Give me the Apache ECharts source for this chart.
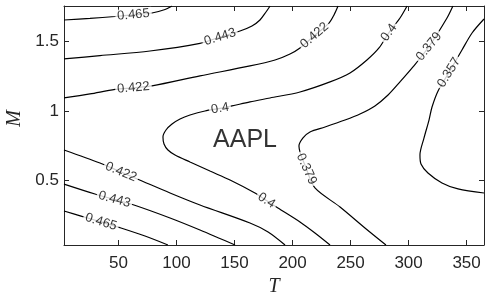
<!DOCTYPE html>
<html><head><meta charset="utf-8">
<script src="https://cdn.jsdelivr.net/npm/echarts@6/dist/echarts.min.js"></script>
<style>html,body{margin:0;padding:0;background:#fff}#c{width:500px;height:300px}</style>
</head><body><div id="c"></div>
<script>
// axis data
const xTicks = [50, 100, 150, 200, 250, 300, 350];
const yTicks = [0.5, 1, 1.5];
const xRange = [3, 365];
const yRange = [0.04, 1.75];

// contour lines [T, M]
const c465Top = [[3,1.650],[25.4,1.661],[47.0,1.675],[62.9,1.687],[78.8,1.700],[90.1,1.725],[96.1,1.75]];
const c443Top = [[3,1.371],[34.0,1.395],[77.1,1.428],[120.2,1.483],[137.5,1.528],[154.7,1.571],[165.0,1.607],[171.9,1.650],[177.1,1.707],[180.6,1.75]];
const c422Top = [[3,1.092],[25.4,1.121],[47.0,1.153],[62.9,1.165],[78.8,1.178],[120.2,1.250],[163.3,1.321],[184.9,1.364],[197.8,1.407],[206.4,1.450],[218.9,1.539],[231.4,1.628],[235.7,1.686],[239.2,1.75]];
const c400 = [[298.7,1.75],[292.6,1.664],[283.1,1.560],[274.5,1.450],[264.1,1.364],[249.5,1.271],[232.3,1.207],[206.4,1.135],[180.6,1.092],[163.3,1.064],[147.8,1.035],[137.5,1.017],[124.5,0.999],[111.6,0.970],[103.0,0.942],[96.1,0.906],[90.9,0.863],[88.3,0.813],[89.2,0.763],[92.6,0.720],[98.7,0.684],[111.6,0.634],[128.8,0.569],[146.1,0.505],[167.6,0.412],[177.5,0.358],[187.4,0.305],[206.4,0.205],[219.3,0.126],[232.3,0.04]];
const c379 = [[338.2,1.75],[333.1,1.664],[317.6,1.460],[303.8,1.314],[292.6,1.207],[282.3,1.113],[271.0,1.035],[258.1,0.977],[245.2,0.934],[228.0,0.884],[215.0,0.849],[209.0,0.806],[205.5,0.748],[212.0,0.584],[219.3,0.448],[240.9,0.312],[262.4,0.162],[280.5,0.04]];
const c357 = [[365,1.657],[354.7,1.557],[346.0,1.435],[334.8,1.274],[325.4,1.142],[320.2,1.027],[317.6,0.934],[313.3,0.806],[309.8,0.684],[310.7,0.620],[316.7,0.555],[328.8,0.484],[342.6,0.441],[365,0.412]];
const c422Low = [[3,0.720],[34.0,0.627],[52.1,0.562],[70.2,0.498],[94.4,0.412],[120.2,0.326],[163.3,0.197],[178.9,0.133],[193.5,0.04]];
const c443Low = [[3,0.476],[29.7,0.405],[46.5,0.366],[63.3,0.326],[94.4,0.233],[120.2,0.147],[150.4,0.04]];
const c465Low = [[3,0.283],[17.7,0.247],[34.9,0.205],[52.1,0.162],[72.8,0.104],[92.6,0.04]];

// contour labels
const labelTexts  = ['0.465','0.443','0.422','0.422','0.4','0.4','0.4','0.379','0.379','0.357','0.422','0.443','0.465'];
const labelPoints = [[62.9,1.687],[137.5,1.528],[62.9,1.165],[218.9,1.539],[283.1,1.560],[137.5,1.017],[177.5,0.358],[317.6,1.460],[212.0,0.584],[334.8,1.274],[52.1,0.562],[46.5,0.366],[34.9,0.205]];
const labelAngles = [5, 17, 5, 41, 54, 10, -33, 51, -66, 58, -23, -16, -17];

const annotation = {text: 'AAPL', point: [159.0, 0.788]};

const contours = [c465Top, c443Top, c422Top, c400, c379, c357, c422Low, c443Low, c465Low];

const chart = echarts.init(document.getElementById('c'), null, {renderer: 'canvas'});
const axisCol = '#262626';
const tickFont = {fontFamily: '"Liberation Sans", Arial, Helvetica, sans-serif', fontSize: 17, color: axisCol};

function mkX(pos, show) {
  return {
    type: 'value', position: pos, min: xRange[0], max: xRange[1],
    axisLine: {show: true, onZero: false, lineStyle: {color: axisCol, width: 1}},
    axisTick: {show: true, inside: true, length: 5, customValues: xTicks, lineStyle: {color: axisCol}},
    axisLabel: Object.assign({show: show, margin: 10, customValues: xTicks}, tickFont),
    splitLine: {show: false},
    name: show ? 'T' : '', nameLocation: 'middle', nameGap: 31,
    nameTextStyle: {fontFamily: '"Liberation Serif", "Times New Roman", serif', fontStyle: 'italic', fontSize: 20, color: axisCol}
  };
}
function mkY(pos, show) {
  return {
    type: 'value', position: pos, min: yRange[0], max: yRange[1],
    axisLine: {show: true, onZero: false, lineStyle: {color: axisCol, width: 1}},
    axisTick: {show: true, inside: true, length: 5, customValues: yTicks, lineStyle: {color: axisCol}},
    axisLabel: Object.assign({show: show, margin: 5, customValues: yTicks}, tickFont),
    splitLine: {show: false},
    name: show ? 'M' : '', nameLocation: 'middle', nameGap: 38,
    nameTextStyle: {fontFamily: '"Liberation Serif", "Times New Roman", serif', fontStyle: 'italic', fontSize: 20, color: axisCol, padding: [0, 0, 0, 14]}
  };
}

const series = contours.map(d => ({
  type: 'line', data: d, xAxisIndex: 0, yAxisIndex: 0,
  showSymbol: false, symbol: 'none', smooth: 0.3, z: 2,
  lineStyle: {color: '#000', width: 1.2}, silent: true
}));

series.push({
  type: 'scatter', xAxisIndex: 0, yAxisIndex: 0, symbolSize: 0, z: 10, silent: true,
  data: labelPoints.map((p, i) => ({name: labelTexts[i], value: p, label: {rotate: labelAngles[i]}})),
  label: {
    show: true, position: 'inside', formatter: '{b}',
    fontFamily: '"Liberation Sans", Arial, Helvetica, sans-serif', fontSize: 13, color: '#000',
    backgroundColor: '#fff', padding: [0, 2]
  }
});
series.push({
  type: 'scatter', xAxisIndex: 0, yAxisIndex: 0, symbolSize: 0, z: 11, silent: true,
  data: [{name: annotation.text, value: annotation.point}],
  label: {show: true, position: 'inside', formatter: '{b}',
    fontFamily: '"Liberation Sans", Arial, Helvetica, sans-serif', fontSize: 25, color: '#000'}
});

chart.setOption({
  animation: false,
  backgroundColor: '#fff',
  grid: {left: 64, right: 16, top: 6, bottom: 55, containLabel: false, outerBoundsMode: 'none'},
  xAxis: [mkX('bottom', true), mkX('top', false)],
  yAxis: [mkY('left', true), mkY('right', false)],
  series: series
});
</script></body></html>
